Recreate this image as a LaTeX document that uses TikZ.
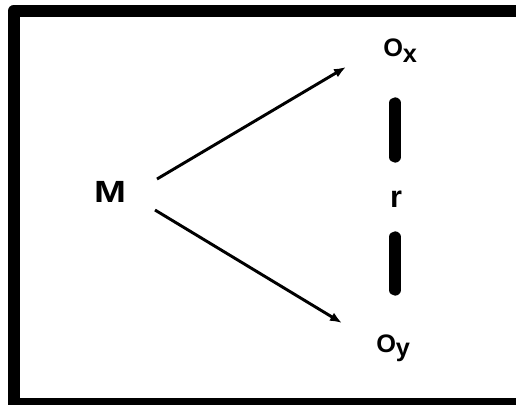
\documentclass[tikz,border=0pt]{standalone}
\usepackage{fontspec}
\setmainfont{Liberation Sans}
\usetikzlibrary{arrows.meta}
\begin{document}
\begin{tikzpicture}[x=0.75pt,y=-0.75pt,
  big/.style={font=\fontsize{23pt}{25pt}\selectfont\bfseries, inner sep=0pt},
  obs/.style={font=\fontsize{19pt}{21pt}\selectfont\bfseries, inner sep=0pt, anchor=base west},
  arr/.style={line width=2.2pt, -{Latex[length=9pt,width=7pt]}},
  bar/.style={line width=8.5pt, line cap=round},
  frame/.style={line width=9pt, line join=round}]
\useasboundingbox (0,0) rectangle (516,404);
\begin{scope}
\clip (0,0) rectangle (516,404);
\draw[frame] (13.5,11) rectangle (530,404);
\end{scope}
\node[big, xscale=1.25] (M) at (110,192) {M};
\node[obs] (Ox) at (383,56) {O\raisebox{-5pt}{x}};
\node[obs] (Oy) at (376,352) {O\raisebox{-3.5pt}{y}};
\node[big] (r) at (396,199) {r};
\coordinate (s1) at (157,179);
\coordinate (e1) at (346,67);
\coordinate (s2) at (155,210);
\coordinate (e2) at (342,323);
\draw[arr] (s1) -- (e1);
\draw[arr] (s2) -- (e2);
\coordinate (b1) at (395,103);
\coordinate (b2) at (395,157);
\coordinate (b3) at (395,237);
\coordinate (b4) at (395,290);
\draw[bar] (b1) -- (b2);
\draw[bar] (b3) -- (b4);
\end{tikzpicture}
\end{document}
